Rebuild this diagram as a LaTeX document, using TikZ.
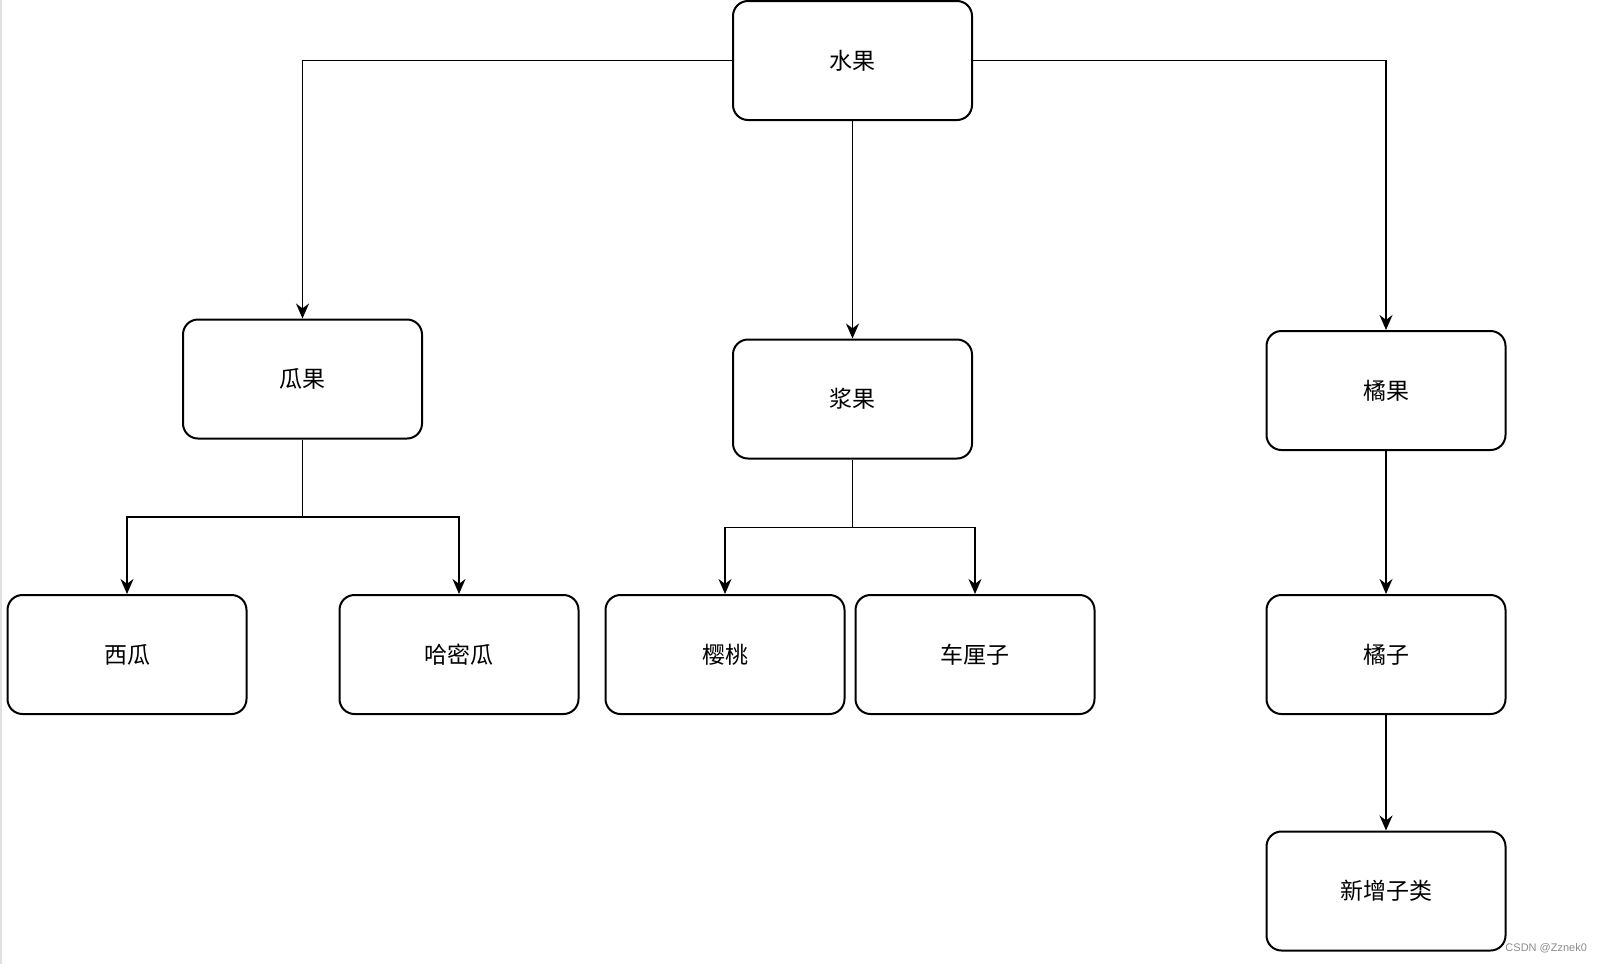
\documentclass[tikz,border=0pt]{standalone}
\usepackage{fontspec}
\newfontfamily\cjk{Noto Sans CJK SC}
\newfontfamily\markfont{Liberation Sans}
\usetikzlibrary{arrows.meta}

\begin{document}
\begin{tikzpicture}[x=0.5pt,y=-0.5pt,>={Stealth[length=7.5pt,width=6.5pt]},
  box/.style={draw,line width=1pt,rounded corners=7.5pt,minimum width=119.5pt,
    minimum height=59.5pt,inner sep=0pt,font=\cjk\fontsize{11.5}{13}\selectfont},
  link/.style={->,line width=0.9pt}]
  \useasboundingbox (0,0) rectangle (1600,964);
  \fill[black!12] (0,0) rectangle (2,964);
  % top level
  \node[box] (guo) at (852.5,60.5) {水果};
  \node[box] (gua) at (302.5,379) {瓜果};
  \node[box] (jiang) at (852.5,399) {浆果};
  \node[box] (ju) at (1386,390.5) {橘果};
  % leaves
  \node[box] (xigua) at (127,654.5) {西瓜};
  \node[box] (hami) at (459,654.5) {哈密瓜};
  \node[box] (ying) at (725,654.5) {樱桃};
  \node[box] (che) at (975,654.5) {车厘子};
  \node[box] (juzi) at (1386,654.5) {橘子};
  \node[box] (xin) at (1386,891) {新增子类};
  \coordinate (gb) at (302.5,517);
  \coordinate (jb) at (852.5,527.5);
  % connectors
  \draw[link] (guo.west) -| (gua.north);
  \draw[link] (guo.east) -| (ju.north);
  \draw[link] (guo.south) -- (jiang.north);
  \draw[line width=0.9pt] (gua.south) -- (gb);
  \draw[link] (gb) -| (xigua.north);
  \draw[link] (gb) -| (hami.north);
  \draw[line width=0.9pt] (jiang.south) -- (jb);
  \draw[link] (jb) -| (ying.north);
  \draw[link] (jb) -| (che.north);
  \draw[link] (ju.south) -- (juzi.north);
  \draw[link] (juzi.south) -- (xin.north);
  \node[text=black!45,font=\markfont\fontsize{5.5}{6.5}\selectfont,anchor=east] (mark) at (1594,948) {CSDN @Zznek0};
\end{tikzpicture}
\end{document}
